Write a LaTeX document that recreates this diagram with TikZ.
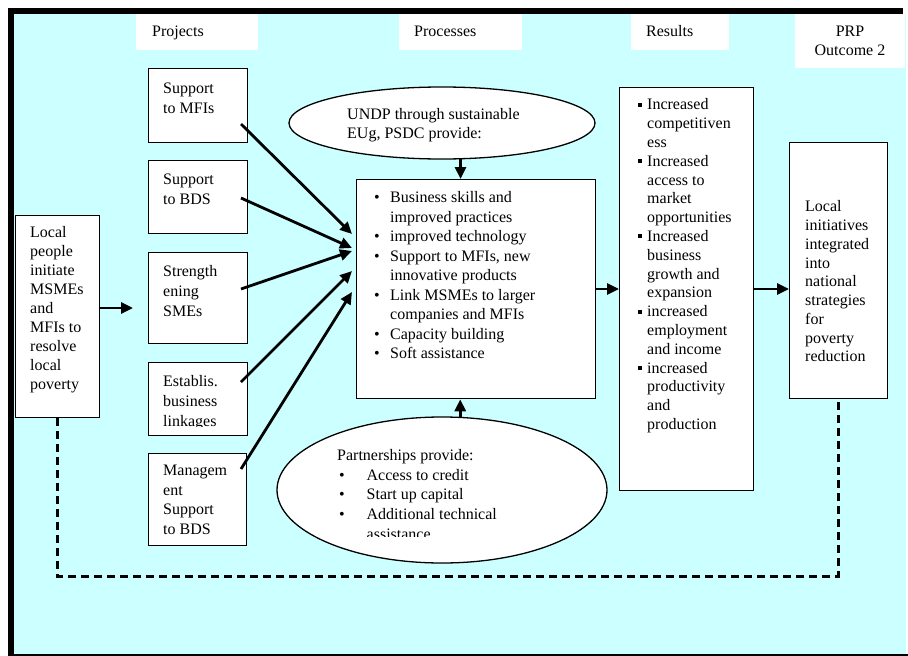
\documentclass[tikz,border=0pt]{standalone}
\usepackage{fontspec}
\setmainfont{Liberation Serif}
\usetikzlibrary{arrows.meta,shapes.geometric,calc}
\definecolor{bgcyan}{RGB}{204,255,255}

\tikzset{
  every node/.style={font=\fontsize{16}{19}\selectfont},
  box/.style={draw=black, fill=white, line width=1.3pt, inner sep=0pt, anchor=north west},
  hdr/.style={fill=white, inner sep=0pt, anchor=north west},
  txt/.style={anchor=north west, inner sep=0pt, align=left},
  projtxt/.style={txt, font=\fontsize{16}{20}\selectfont},
  oval/.style={ellipse, draw=black, fill=white, line width=1.3pt, inner sep=0pt},
  arr/.style={line width=2.8pt, -{Triangle[length=12pt,width=11pt]}},
  feedback/.style={line width=3pt, dash pattern=on 8pt off 5pt},
}
\newcommand{\pbul}{\makebox[16pt][l]{\textbullet}}
\newcommand{\pind}{\hspace*{16pt}}
\newcommand{\rbul}{\makebox[9.5pt][l]{\rule[3pt]{4pt}{4pt}}}
\newcommand{\rind}{\hspace*{9.5pt}}
\newcommand{\obul}{\hspace*{2pt}\makebox[27.5pt][l]{\textbullet}}
\newcommand{\oind}{\hspace*{29.5pt}}

\begin{document}
\begin{tikzpicture}[x=1pt,y=-1pt]
\useasboundingbox (0,0) rectangle (908,656);
\fill[white] (0,0) rectangle (908,656);

% page frame
\fill[bgcyan] (14,14) rectangle (906,654);
\fill[black] (8,8) rectangle (903,14);
\fill[black] (8,8) rectangle (14,656);
\fill[black] (14,654) rectangle (908,656);

% column headers
\node[hdr, minimum width=122pt, minimum height=36pt] (hproj) at (136,14) {};
\node[hdr, minimum width=123pt, minimum height=36pt] (hproc) at (399,14) {};
\node[hdr, minimum width=98pt, minimum height=36pt] (hres) at (631,14) {};
\node[hdr, minimum width=110pt, minimum height=54pt] (hprp) at (795,14) {};
\node[txt] (tproj) at (152,23) {\strut Projects};
\node[txt] (tproc) at (414,23) {\strut Processes};
\node[txt] (tres) at (646,23) {\strut Results};
\node[txt, anchor=north, align=center] (tprp) at (850,23) {\strut PRP\\Outcome 2};

% starting point
\node[box, minimum width=84pt, minimum height=202pt] (local) at (15,215) {};
\node[txt] (tlocal) at (30,223.5) {\strut Local\\people\\initiate\\MSMEs\\and\\MFIs to\\resolve\\local\\poverty};

% projects
\node[box, minimum width=99pt, minimum height=74pt] (mfi) at (148,68) {};
\node[projtxt] (tmfi) at (163,79.5) {\strut Support\\to MFIs};
\node[box, minimum width=99pt, minimum height=73pt] (bds) at (148,160) {};
\node[projtxt] (tbds) at (163,170.5) {\strut Support\\to BDS};
\node[box, minimum width=99pt, minimum height=91pt] (sme) at (148,252) {};
\node[projtxt] (tsme) at (163,262.5) {\strut Strength\\ening\\SMEs};
\node[box, minimum width=99pt, minimum height=73pt] (link) at (148,362) {};
\begin{scope}
  \clip (148,362) rectangle (247,426);
  \node[projtxt] (tlink) at (163,372.5) {\strut Establis.\\business\\linkages};
\end{scope}
\node[box, minimum width=98pt, minimum height=92pt] (mgmt) at (148,453) {};
\node[txt, font=\fontsize{16}{19.5}\selectfont] (tmgmt) at (163,462) {\strut Managem\\ent\\Support\\to BDS};

% processes
\node[box, minimum width=239pt, minimum height=219pt] (proc) at (356,179) {};
\node[txt, font=\fontsize{16}{19.5}\selectfont] (tproc2) at (374,189)
  {\strut\pbul Business skills and\\\pind improved practices\\\pbul improved technology\\
   \pbul Support to MFIs, new\\\pind innovative products\\\pbul Link MSMEs to larger\\
   \pind companies and MFIs\\\pbul Capacity building\\\pbul Soft assistance};

\node[oval, minimum width=306pt, minimum height=72pt] (topell) at (442,123) {};
\node[txt] (ttop) at (347,106) {\strut UNDP through sustainable\\EUg, PSDC provide:};

\node[oval, minimum width=330pt, minimum height=146pt] (botell) at (442,490) {};
\begin{scope}
  \clip (290,440) rectangle (600,536.5);
  \node[txt, font=\fontsize{16}{19.7}\selectfont] (tbot) at (337,446.5)
    {\strut Partnerships provide:\\\obul Access to credit\\\obul Start up capital\\
     \obul Additional technical\\\oind assistance};
\end{scope}

% results
\node[box, minimum width=134pt, minimum height=403pt] (res) at (619,87) {};
\node[txt, font=\fontsize{16}{18.8}\selectfont] (tres2) at (637.5,96.5)
  {\strut\rbul Increased\\\rind competitiven\\\rind ess\\
   \rbul Increased\\\rind access to\\\rind market\\\rind opportunities\\
   \rbul Increased\\\rind business\\\rind growth and\\\rind expansion\\
   \rbul increased\\\rind employment\\\rind and income\\
   \rbul increased\\\rind productivity\\\rind and\\\rind production};

% outcome
\node[box, minimum width=98pt, minimum height=256pt] (out) at (789,142) {};
\node[txt, font=\fontsize{16}{18.75}\selectfont] (tout) at (805,198.5)
  {\strut Local\\initiatives\\integrated\\into\\national\\strategies\\for\\poverty\\reduction};

% connector end points
\coordinate (mfiout) at (241,124);  \coordinate (mfiin) at (352,234);
\coordinate (bdsout) at (241,198);  \coordinate (bdsin) at (352,248);
\coordinate (smeout) at (241,289);  \coordinate (smein) at (352,251);
\coordinate (linkout) at (241,382); \coordinate (linkin) at (352,271);
\coordinate (mgmtout) at (241,469); \coordinate (mgmtin) at (352,292);
\coordinate (smeleft) at (133,308);

% connectors
\draw[arr] (local.east |- smeleft) -- (smeleft);
\draw[arr] (mfiout) -- (mfiin);
\draw[arr] (bdsout) -- (bdsin);
\draw[arr] (smeout) -- (smein);
\draw[arr] (linkout) -- (linkin);
\draw[arr] (mgmtout) -- (mgmtin);
\draw[arr] (topell.-63) -- (topell.-63 |- proc.north);
\draw[arr] (botell.76) -- (botell.76 |- proc.south);
\coordinate (flow) at (0,289);
\draw[arr] (proc.east |- flow) -- (res.west |- flow);
\draw[arr] (res.east |- flow) -- (out.west |- flow);

% feedback loop
\coordinate (fbl) at (57,576);
\coordinate (fbr) at (838,576);
\draw[feedback] (local.south -| fbl) -- (fbl) -- (fbr) -- (out.south -| fbr);
\end{tikzpicture}
\end{document}
